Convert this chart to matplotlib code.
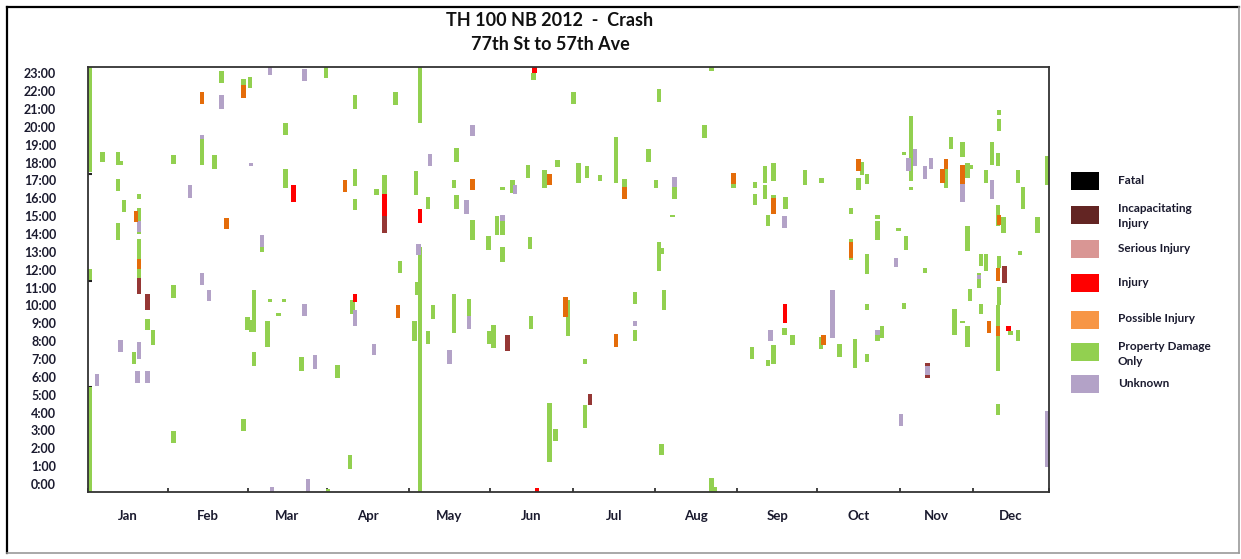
import matplotlib
matplotlib.use('Agg')
import matplotlib.pyplot as plt
from matplotlib.patches import Rectangle
from matplotlib.lines import Line2D

plt.rcParams['font.family'] = ['Lato', 'DejaVu Sans']

# crashes as (day of year, start hour, end hour)
pdo = [
    (0.8, 17.47, 23.35), (0.8, 11.4, 12.06), (0.8, -0.45, 5.43), (5.5, 18.03, 18.59),
    (11.5, 17.84, 18.59), (12.3, 17.84, 18.1), (11.5, 16.39, 17.06), (13.7, 15.23, 15.88),
    (11.5, 13.68, 14.61), (19.4, 15.98, 16.26), (19.4, 14.02, 15.47), (19.4, 12.62, 13.74),
    (19.4, 11.53, 12.02), (22.7, 8.64, 9.22), (24.8, 7.8, 8.64), (17.6, 6.74, 7.39),
    (32.5, 10.41, 11.12), (32.5, 17.94, 18.44), (32.5, 2.31, 2.95), (43.5, 17.84, 19.3),
    (48.1, 17.66, 18.44), (50.9, 22.47, 23.1), (59.2, 22.32, 22.69), (61.7, 22.17, 22.79),
    (59.2, 2.97, 3.62), (60.7, 8.6, 9.35), (62.0, 8.51, 9.2), (63.3, 8.51, 10.84),
    (90.7, 22.73, 23.35), (101.7, 21.02, 21.76), (117.2, 21.2, 21.95), (75.3, 19.56, 20.21),
    (75.3, 16.57, 17.62), (101.7, 16.68, 17.62), (101.7, 15.32, 15.98), (109.9, 16.2, 16.54),
    (112.9, 16.26, 17.32), (66.3, 12.99, 13.27), (118.9, 11.83, 12.49), (69.3, 10.19, 10.38),
    (74.7, 10.19, 10.38), (72.5, 9.41, 9.59), (68.4, 7.67, 9.11), (100.7, 9.54, 10.28),
    (63.3, 6.61, 7.39), (81.4, 6.31, 7.11), (95.1, 5.94, 6.68), (99.8, 0.82, 1.6),
    (91.5, -0.45, -0.26), (126.5, 20.21, 23.35), (126.5, -0.45, 13.27), (125.2, 10.56, 11.31),
    (124.3, 7.99, 9.11), (124.9, 16.16, 17.51), (129.4, 15.42, 16.07), (129.4, 7.86, 8.55),
    (131.3, 9.26, 10.0), (140.4, 18.03, 18.83), (139.4, 16.57, 17.0), (140.4, 15.42, 16.16),
    (146.5, 13.68, 14.8), (152.5, 13.12, 13.87), (155.7, 13.96, 14.98), (157.8, 13.96, 14.71),
    (157.8, 12.43, 13.27), (157.8, 16.44, 16.63), (161.6, 16.29, 17.04), (167.5, 17.13, 17.88),
    (168.4, 13.18, 13.83), (173.8, 16.57, 17.6), (178.8, 17.75, 18.16), (169.6, 22.6, 23.0),
    (139.4, 8.47, 10.66), (145.2, 9.41, 10.34), (152.9, 7.86, 8.55), (154.4, 7.61, 8.88),
    (168.7, 8.66, 9.39), (182.9, 8.29, 10.28), (175.7, 1.23, 4.55), (178.1, 2.39, 3.1),
    (237.5, 23.1, 23.35), (184.9, 21.29, 21.95), (217.5, 21.39, 22.13), (234.8, 19.37, 20.12),
    (201.0, 16.87, 19.43), (213.4, 18.03, 18.74), (186.8, 16.87, 17.99), (190.0, 17.13, 17.79),
    (195.0, 16.97, 17.28), (204.3, 16.63, 17.1), (216.3, 16.57, 17.0), (223.3, 15.98, 16.63),
    (222.6, 14.93, 15.08), (217.5, 11.93, 13.55), (218.5, 12.9, 13.23), (208.4, 10.1, 10.75),
    (219.4, 9.72, 10.84), (208.4, 7.99, 8.64), (189.3, 6.74, 6.98), (189.3, 3.15, 4.4),
    (218.5, 1.6, 2.26), (237.5, -0.45, 0.34), (238.7, -0.45, -0.17), (245.8, 16.57, 16.82),
    (254.1, 16.57, 16.91), (254.1, 15.6, 16.26), (257.9, 16.87, 17.79), (257.9, 15.94, 16.72),
    (261.1, 16.95, 17.99), (261.1, 16.01, 16.16), (258.9, 14.45, 15.08), (265.7, 15.42, 16.07),
    (273.1, 16.76, 17.6), (279.4, 16.87, 17.13), (294.7, 17.28, 18.03), (293.4, 16.48, 17.13),
    (296.6, 16.82, 17.38), (290.5, 15.14, 15.47), (290.5, 12.52, 13.74), (300.6, 14.86, 15.08),
    (300.6, 13.68, 14.71), (296.6, 11.74, 12.86), (296.6, 9.72, 10.06), (265.2, 8.36, 8.73),
    (268.3, 7.76, 8.36), (252.8, 7.02, 7.67), (258.9, 6.61, 6.92), (261.1, 6.74, 7.76),
    (279.2, 7.58, 8.23), (286.2, 7.11, 7.86), (292.1, 6.5, 8.14), (296.6, 6.83, 7.3),
    (300.6, 7.99, 8.36), (302.3, 8.18, 8.83), (313.5, 16.95, 20.59), (313.5, 16.44, 16.63),
    (310.8, 18.4, 18.59), (328.6, 18.78, 19.43), (326.7, 16.57, 17.66), (333.0, 18.31, 19.15),
    (335.0, 17.13, 17.99), (336.3, 17.66, 17.88), (342.0, 16.87, 17.6), (344.2, 17.84, 19.15),
    (346.5, 17.8, 18.55), (347.0, 20.64, 20.96), (347.0, 19.75, 20.46), (354.1, 16.87, 17.6),
    (356.0, 15.42, 16.63), (365.2, 16.76, 18.35), (308.7, 14.15, 14.33), (311.5, 13.12, 13.87),
    (318.8, 11.83, 12.11), (335.0, 13.03, 14.42), (346.5, 14.45, 15.6), (348.7, 14.07, 14.95),
    (361.7, 14.07, 14.95), (355.0, 12.8, 13.05), (340.1, 12.21, 12.86), (342.0, 11.93, 12.86),
    (339.4, 10.97, 11.81), (347.0, 12.11, 12.77), (336.0, 10.23, 10.94), (347.0, 10.04, 11.03),
    (340.1, 9.5, 10.06), (310.8, 9.82, 10.15), (330.0, 8.36, 9.78), (333.0, 9.01, 9.11),
    (335.0, 7.67, 8.83), (346.5, 6.35, 10.04), (351.4, 8.36, 8.55), (354.1, 7.99, 8.64),
    (346.5, 3.84, 4.46),
]
unknown = [
    (19.4, 14.11, 14.71), (12.4, 7.39, 8.04), (19.4, 7.02, 7.95), (3.5, 5.49, 6.14),
    (18.8, 5.67, 6.33), (22.7, 5.67, 6.33), (43.5, 19.3, 19.52), (50.9, 21.02, 21.76),
    (38.9, 16.01, 16.72), (43.5, 11.16, 11.83), (46.1, 10.23, 10.84), (62.0, 17.8, 17.99),
    (69.3, 22.9, 23.35), (82.4, 22.55, 23.25), (66.3, 13.27, 13.92), (82.4, 9.41, 10.1),
    (101.7, 8.85, 9.72), (109.0, 7.2, 7.86), (86.5, 6.42, 7.2), (70.0, -0.45, -0.17),
    (83.7, -0.45, 0.26), (125.8, 12.8, 13.46), (130.3, 17.8, 18.46), (146.5, 19.48, 20.12),
    (144.2, 15.14, 15.88), (157.8, 14.71, 15.08), (162.6, 16.26, 16.72), (145.2, 8.66, 9.41),
    (137.6, 6.74, 7.48), (223.3, 16.63, 17.19), (208.4, 8.85, 9.11), (265.2, 14.33, 15.0),
    (260.0, 7.99, 8.64), (283.5, 8.18, 10.84), (300.6, 8.36, 8.64), (312.5, 17.51, 18.25),
    (315.0, 17.8, 18.74), (318.8, 17.06, 17.79), (321.0, 17.66, 18.25), (333.0, 15.79, 16.82),
    (344.2, 15.98, 17.04), (307.8, 12.15, 12.67), (339.4, 11.46, 11.68), (319.8, 5.93, 6.79),
    (309.7, 3.25, 3.9), (365.2, 0.95, 4.09),
]
possible = [
    (18.2, 14.67, 15.26), (19.4, 12.02, 12.58), (43.5, 21.29, 21.95), (52.8, 14.3, 14.89),
    (59.2, 21.61, 22.32), (97.9, 16.35, 17.04), (118.0, 9.29, 10.0), (146.5, 16.44, 17.1),
    (175.7, 16.76, 17.38), (181.9, 9.35, 10.45), (204.3, 15.98, 16.63), (201.0, 7.67, 8.42),
    (245.8, 16.82, 17.41), (261.1, 15.14, 16.01), (293.4, 17.51, 18.18), (290.5, 12.65, 13.55),
    (280.1, 7.76, 8.32), (326.7, 17.66, 18.18), (325.4, 16.87, 17.62), (333.0, 16.82, 17.88),
    (347.0, 14.48, 15.08), (346.5, 11.37, 12.11), (343.2, 8.47, 9.11), (346.5, 8.27, 8.83),
]
injury = [
    (78.2, 15.79, 16.72), (112.9, 15.01, 16.26), (101.7, 10.19, 10.66), (126.5, 14.63, 15.42),
    (170.0, 23.0, 23.35), (171.1, -0.45, -0.22), (265.5, 9.03, 10.06), (350.5, 8.55, 8.83),
]
incapacitating = [
    (19.4, 10.66, 11.53), (22.7, 9.72, 10.66), (112.9, 14.05, 15.01), (159.7, 7.43, 8.32),
    (191.2, 4.4, 5.06), (349.0, 11.27, 12.21), (319.8, 6.61, 6.79), (319.8, 5.93, 6.11),
]

months = ['Jan', 'Feb', 'Mar', 'Apr', 'May', 'Jun', 'Jul', 'Aug', 'Sep', 'Oct', 'Nov', 'Dec']
month_edges = [0, 30.5, 60.9, 91.0, 122.3, 153.1, 184.7, 216.0, 247.2, 277.7, 309.3, 337.1, 366]
hour_labels = ['%d:00' % h for h in range(24)]

legend_names = ['Fatal', 'Incapacitating\nInjury', 'Serious Injury', 'Injury',
                'Possible Injury', 'Property Damage\nOnly', 'Unknown']
legend_colors = ['#000000', '#632523', '#D99694', '#FF0000', '#F79646', '#92D050', '#B3A2C7']

W, H = 1241, 559
fig = plt.figure(figsize=(W / 100, H / 100), dpi=100)
ax = fig.add_axes([88 / W, 1 - 492 / H, 961 / W, 425 / H])

layers = [(pdo, '#92D050'), (unknown, '#B3A2C7'), (possible, '#E46C0A'),
          (injury, '#FF0000'), (incapacitating, '#953735')]
for segs, color in layers:
    ax.bar([s[0] for s in segs], [s[2] - s[1] for s in segs], bottom=[s[1] for s in segs],
           width=1.7, color=color, linewidth=0, zorder=2)

ax.set_xlim(0, 366)
ax.set_ylim(-0.45, 23.35)

ax.set_yticks(range(24))
ax.set_yticklabels(hour_labels, fontsize=9, fontweight='bold', color='#1a1a2e')
ax.tick_params(axis='y', which='major', length=0, pad=23)
ax.set_yticks([5.43, 11.37, 17.36], minor=True)
ax.tick_params(axis='y', which='minor', direction='in', length=3, width=1.5, color='#222222')

ax.set_xticks(month_edges)
ax.set_xticklabels([])
ax.tick_params(axis='x', which='major', direction='in', length=3, width=1.2, color='#222222')
mids = [(a + b) / 2 for a, b in zip(month_edges[:-1], month_edges[1:])]
ax.set_xticks(mids, minor=True)
ax.set_xticklabels(months, minor=True, fontsize=9.5, fontweight='bold', color='#1a1a2e')
ax.tick_params(axis='x', which='minor', length=0, pad=13)

for sp in ax.spines.values():
    sp.set_color('#333333')
    sp.set_linewidth(1.3)

fig.text(550 / W, 1 - 20 / H, 'TH 100 NB 2012  -  Crash', ha='center', va='center',
         fontsize=13, fontweight='bold', color='#111111')
fig.text(550 / W, 1 - 45 / H, '77th St to 57th Ave', ha='center', va='center',
         fontsize=13, fontweight='bold', color='#111111')

# legend drawn beside the plot
box_tops = [172, 206, 240, 274, 311, 343, 375]
text_mid = [180, 216, 248, 283, 318.5, 354, 383.5]
for name, color, top, ty in zip(legend_names, legend_colors, box_tops, text_mid):
    fig.add_artist(Rectangle((1071 / W, 1 - (top + 18) / H), 28 / W, 18 / H,
                             transform=fig.transFigure, facecolor=color, edgecolor='none'))
    fig.text(1118 / W, 1 - ty / H, name, ha='left', va='center', fontsize=8.5,
             fontweight='bold', color='#1a1a2e', linespacing=1.4)

# picture frame
fig.add_artist(Line2D([7 / W, 1239 / W], [1 - 7 / H, 1 - 7 / H], color='black', lw=1.6,
                      transform=fig.transFigure))
fig.add_artist(Line2D([7 / W, 7 / W], [1 - 7 / H, 1 - 553 / H], color='black', lw=1.6,
                      transform=fig.transFigure))
fig.add_artist(Line2D([1239 / W, 1239 / W], [1 - 7 / H, 1 - 553 / H], color='#9a9a9a', lw=1.2,
                      transform=fig.transFigure))
fig.add_artist(Line2D([7 / W, 1239 / W], [1 - 553 / H, 1 - 553 / H], color='#9a9a9a', lw=1.2,
                      transform=fig.transFigure))

fig.savefig('out.png', dpi=100)
